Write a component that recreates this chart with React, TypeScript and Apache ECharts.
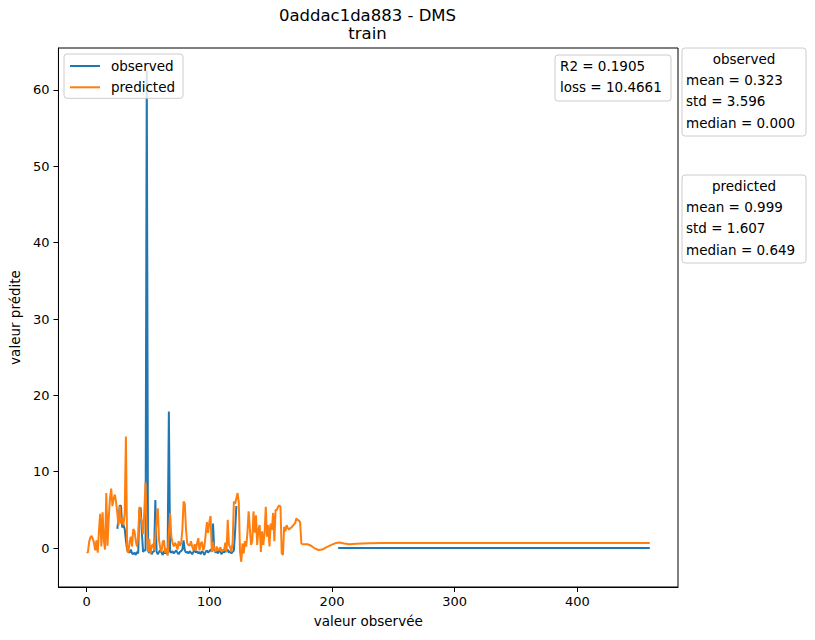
import { useEffect, useRef } from 'react';
import * as echarts from 'echarts';

// predicted values, one per index starting at x = 0
const predNoisy = [
  -0.5, -0.6, 0.8, 1.4, 1.6, 1.2, 0.7, -0.3, 1.0, -0.6,
  2.2, 4.5, 0.2, 4.7, 1.0, -0.2, 7.2, 0.3, 4.0, 6.5,
  7.8, 5.5, 6.5, 7.0, 6.0, 4.5, 3.0, 5.5, 3.2, 4.0,
  3.0, 4.5, 14.6, -0.3, -0.6, 0.8, 1.5, 0.2, 2.5, 2.2,
  1.0, 0.2, 1.5, 5.4, 4.0, 3.5, 1.8, 4.8, 8.6, 2.0,
  -0.5, 1.2, -0.8, 0.3, 0.5, -0.3, 1.5, 3.5, 5.2, 1.0,
  0.0, -0.5, 0.8, 1.0, -0.6, 0.0, -1.0, 2.0, 4.6, 1.5,
  0.7, 0.2, 0.7, 0.4, -0.2, 0.9, 0.3, 0.6, 2.4, 6.1,
  5.8, 2.4, 0.6, 0.4, 0.3, 0.9, 0.2, -0.3, 0.5, -0.3,
  0.6, 1.3, -0.3, 0.6, 0.8, -0.3, 0.2, 1.8, 3.4, 2.0,
  3.4, 4.2, -0.5, 0.8, -0.2, -0.5, 0.2, -0.3, -0.2, 0.1,
  -0.5, -0.2, -0.3, 0.7, -0.5, 3.7, 0.4, 0.1, -0.5, 0.8,
  6.1, 5.8, 6.5, 7.2, 6.0, -0.5, -1.8, 0.6, -0.7, 0.9,
  0.2, 1.9, 4.8, 2.6, 0.4, 1.0, 4.8, 2.0, 4.3, 0.4,
  2.5, 3.0, -0.5, 2.2, 0.4, 2.0, 5.4, 1.5, 3.0, 0.2,
  3.2, 2.4, 4.6, 0.9, 5.0, 5.0, 5.4, 5.6, 5.4, -0.7,
  -0.9, 2.8, 2.2, 3.0, 2.6, 2.4, 2.6, 2.7, 2.9, 3.1,
  3.3, 3.9, 3.7, 3.6, 3.4, 0.6, 0.5,
];

// smooth tail of the prediction
const predTailX = [180, 183, 186, 189, 192, 196, 200, 203, 206, 210, 214, 220, 230, 240, 459];
const predTailY = [0.5, 0.3, -0.05, -0.25, -0.2, 0.15, 0.45, 0.65, 0.72, 0.6, 0.5, 0.58, 0.64, 0.65, 0.65];

// observed values, one per index starting at x = 25
const obsStart = 25;
const obsNoisy = [
  2.5, 4.0, 5.6, 5.5, 2.7, 3.0, 2.5, 1.0, -0.3, -0.5,
  -0.6, -0.2, -0.7, -0.8, -0.6, -0.9, -0.5, -0.7, 5.0, 5.3,
  2.0, -0.5, -0.3, -0.3, 62.5, -0.4, -0.6, -0.3, -0.8, -0.5,
  -0.4, 6.3, -0.5, -0.8, -0.5, -0.3, -0.6, -0.9, -0.4, -0.7,
  -0.5, -0.8, 17.9, -0.5, -0.6, -0.4, -0.7, -0.5, -0.3, -0.6,
  -0.8, -0.5, -0.4, -0.2, 1.0, -0.3, -0.6, -0.5, -0.7, -0.4,
  -0.6, -0.8, -0.5, -0.3, -0.6, -0.4, -0.7, -0.5, -0.8, -0.4,
  -0.6, -0.9, -0.5, -0.3, -0.6, -0.4, -0.2, -0.5, 3.2, -0.3,
  -0.6, -0.4, -0.7, -0.3, -0.5, -0.8, -0.4, -0.6, -0.3, -0.5,
  -0.2, -0.6, -0.4, -0.7, -0.5, -0.3, 2.2, 5.5,
];
const obsTailX = [205, 459];
const obsTailY = [0, 0];

const xTicks = [0, 100, 200, 300, 400];
const yTicks = [0, 10, 20, 30, 40, 50, 60];

const scoreLines = ['R2 = 0.1905', 'loss = 10.4661'];
const obsStats = ['mean = 0.323', 'std = 3.596', 'median = 0.000'];
const predStats = ['mean = 0.999', 'std = 1.607', 'median = 0.649'];

const FONT = 'DejaVu Sans';

function statBox(title: string, lines: string[], top: number) {
  return {
    type: 'group',
    children: [
      {
        type: 'rect',
        shape: { x: 682, y: top, width: 124, height: 88, r: 3 },
        style: { fill: '#fff', stroke: '#cccccc', lineWidth: 1 },
      },
      {
        type: 'text',
        x: 744,
        y: top + 11,
        style: { text: title, font: `13.5px "${FONT}"`, fill: '#000', align: 'center', verticalAlign: 'middle' },
      },
      ...lines.map((t, i) => ({
        type: 'text',
        x: 686,
        y: top + 32 + i * 21.3,
        style: { text: t, font: `13.5px "${FONT}"`, fill: '#000', align: 'left', verticalAlign: 'middle' },
      })),
    ],
  };
}

export default function App() {
  const ref = useRef<HTMLDivElement>(null);

  useEffect(() => {
    document.body.style.margin = '0';
    if (!ref.current) return;

    const predData: (number | string)[][] = predNoisy.map((v, i) => [i, v]);
    predTailX.forEach((x, i) => predData.push([x, predTailY[i]]));

    const obsData: (number | string)[][] = obsNoisy.map((v, i) => [obsStart + i, v]);
    obsData.push([164, '-']);
    obsTailX.forEach((x, i) => obsData.push([x, obsTailY[i]]));

    const chart = echarts.init(ref.current, null, { renderer: 'svg' });
    chart.setOption({
      animation: false,
      backgroundColor: '#fff',
      textStyle: { fontFamily: FONT },
      title: {
        text: '0addac1da883 - DMS',
        subtext: 'train',
        left: 367.5,
        top: 7,
        padding: 0,
        itemGap: 1,
        textAlign: 'center',
        textStyle: { fontFamily: FONT, fontSize: 16.5, fontWeight: 'normal', color: '#000', lineHeight: 17 },
        subtextStyle: { fontFamily: FONT, fontSize: 16.5, color: '#000', lineHeight: 17 },
      },
      legend: {
        orient: 'vertical',
        left: 64,
        top: 54,
        padding: [5, 8, 4, 5],
        itemWidth: 30,
        itemHeight: 14,
        itemGap: 7.3,
        backgroundColor: 'rgba(255,255,255,0.8)',
        borderColor: '#cccccc',
        borderWidth: 1,
        borderRadius: 3,
        itemStyle: { opacity: 0 },
        lineStyle: { width: 2 },
        textStyle: { fontFamily: FONT, fontSize: 13.5, color: '#000', padding: [0, 0, 0, 6] },
        data: ['observed', 'predicted'],
      },
      grid: {
        left: 58,
        top: 48,
        right: 137,
        bottom: 53,
        show: true,
        borderColor: '#000',
        borderWidth: 1,
        backgroundColor: 'transparent',
      },
      xAxis: {
        type: 'value',
        min: -23,
        max: 482,
        name: 'valeur observée',
        nameLocation: 'middle',
        nameGap: 27,
        nameTextStyle: { fontFamily: FONT, fontSize: 13.5, color: '#000' },
        axisLine: { show: true, onZero: false, lineStyle: { color: '#000', width: 1 } },
        axisTick: { show: true, length: 5, lineStyle: { color: '#000' }, customValues: xTicks },
        axisLabel: { color: '#000', fontSize: 13, fontFamily: FONT, margin: 8, customValues: xTicks },
        splitLine: { show: false },
      },
      yAxis: {
        type: 'value',
        min: -5.1,
        max: 65.5,
        name: 'valeur prédite',
        nameLocation: 'middle',
        nameGap: 34,
        nameTextStyle: { fontFamily: FONT, fontSize: 13.5, color: '#000' },
        axisLine: { show: true, onZero: false, lineStyle: { color: '#000', width: 1 } },
        axisTick: { show: true, length: 5, lineStyle: { color: '#000' }, customValues: yTicks },
        axisLabel: { color: '#000', fontSize: 13, fontFamily: FONT, margin: 9, customValues: yTicks },
        splitLine: { show: false },
      },
      series: [
        {
          name: 'observed',
          type: 'line',
          data: obsData,
          symbol: 'none',
          showSymbol: false,
          connectNulls: false,
          color: '#1f77b4',
          lineStyle: { color: '#1f77b4', width: 2 },
        },
        {
          name: 'predicted',
          type: 'line',
          data: predData,
          symbol: 'none',
          showSymbol: false,
          color: '#ff7f0e',
          lineStyle: { color: '#ff7f0e', width: 2 },
        },
      ],
      graphic: [
        {
          type: 'group',
          children: [
            {
              type: 'rect',
              shape: { x: 555, y: 55, width: 116, height: 46, r: 3 },
              style: { fill: 'rgba(255,255,255,0.8)', stroke: '#cccccc', lineWidth: 1 },
            },
            ...scoreLines.map((t, i) => ({
              type: 'text',
              x: 560,
              y: 66 + i * 21.3,
              style: { text: t, font: `13.5px "${FONT}"`, fill: '#000', align: 'left', verticalAlign: 'middle' },
            })),
          ],
        },
        statBox('observed', obsStats, 48),
        statBox('predicted', predStats, 175),
      ],
    });

    return () => chart.dispose();
  }, []);

  return <div ref={ref} style={{ width: 815, height: 640 }} />;
}
